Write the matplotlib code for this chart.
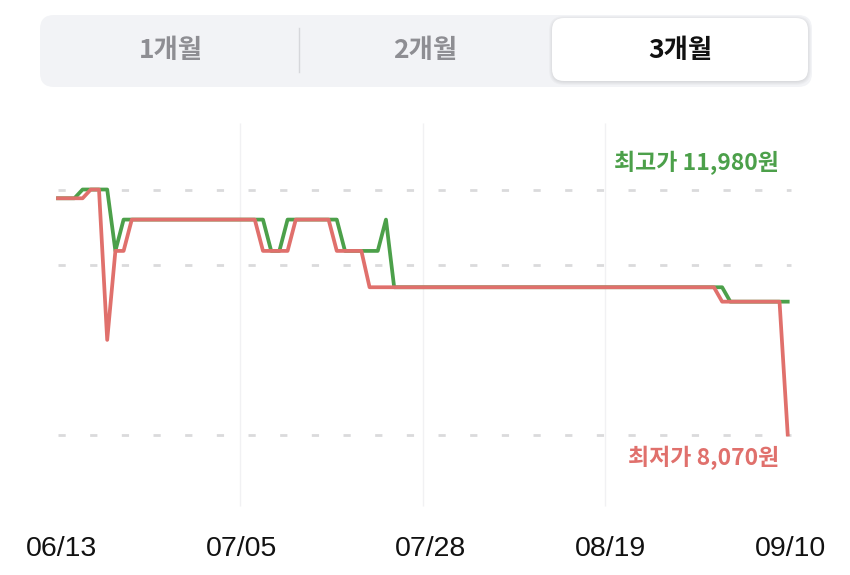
import numpy as np
import matplotlib
matplotlib.use('Agg')
import matplotlib.pyplot as plt
from matplotlib.patches import FancyBboxPatch

plt.rcParams['font.family'] = ['Noto Sans CJK KR', 'DejaVu Sans']

# 데이터 (06/13 기준 경과일, 가격)
tabs = ['1개월', '2개월', '3개월']
tick_labels = ['06/13', '07/05', '07/28', '08/19', '09/10']
tick_days = [0, 22, 45, 67, 89]
n_days = 89
price_max = 11980
price_min = 8070
price_mid = 10780

low_days = [0, 3, 4, 5, 6, 7, 8, 9, 24, 25, 28, 29, 33, 34, 37, 38, 80, 81, 88, 89]
low_vals = [11840, 11840, 11980, 11980, 9580, 11000, 11000, 11500, 11500, 11000,
            11000, 11500, 11500, 11000, 11000, 10420, 10420, 10190, 10190, 8070]
high_days = [0, 2, 3, 6, 7, 8, 25, 26, 27, 28, 34, 35, 39, 40, 41, 81, 82, 89]
high_vals = [11840, 11840, 11980, 11980, 11000, 11500, 11500, 11000, 11000, 11500,
             11500, 11000, 11000, 11500, 10420, 10420, 10190, 10190]

green = '#4ca04a'
red = '#e0706c'

W, H = 850, 575
fig = plt.figure(figsize=(W / 100, H / 100), dpi=100)

# 상단 기간 선택 탭
bg = fig.add_axes([0, 0, 1, 1])
bg.set_xlim(0, W)
bg.set_ylim(H, 0)
bg.axis('off')
bg.add_patch(FancyBboxPatch((40, 15), 772, 72, boxstyle='round,pad=0,rounding_size=14',
                            fc='#f2f3f6', ec='none'))
for k in range(4):
    bg.add_patch(FancyBboxPatch((552 - k, 19 - k), 256 + 2 * k, 63 + 2 * k,
                                boxstyle='round,pad=0,rounding_size=%d' % (12 + k),
                                fc='#000000', ec='none', alpha=0.025))
bg.add_patch(FancyBboxPatch((552, 18), 256, 63, boxstyle='round,pad=0,rounding_size=12',
                            fc='white', ec='none'))
bg.plot([299, 299], [28, 72], color='#d6d7db', lw=1)
tab_x = [171, 425, 680]
for i, t in enumerate(tabs):
    c = '#111111' if i == 2 else '#8e8e93'
    bg.text(tab_x[i], 50, t, ha='center', va='center', fontsize=19,
            fontweight='bold', color=c)

# 가격 차트
x0, x1, y0, y1 = 58, 791, 189.5, 434.5
ax = fig.add_axes([x0 / W, 1 - y1 / H, (x1 - x0) / W, (y1 - y0) / H])
ax.set_xlim(0, n_days)
ax.set_ylim(price_min, price_max)
ax.patch.set_alpha(0)
for s in ax.spines.values():
    s.set_visible(False)

grid_x = np.linspace(0, n_days, 5)[1:4]
ax.vlines(grid_x, -0.29, 1.27, transform=ax.get_xaxis_transform(),
          color='#f1f1f3', lw=1, clip_on=False, zorder=0)
for v in [price_max, price_mid, price_min]:
    ax.axhline(v, color='#dadadc', lw=2.0, dashes=(2.6, 8.8), clip_on=False, zorder=1)

ax.plot(high_days, high_vals, color=green, lw=2.7, clip_on=False, zorder=3)
ax.plot(low_days, low_vals, color=red, lw=2.7, clip_on=False, zorder=4)

ax.text(0.9836, 1.108, '최고가 {:,}원'.format(price_max), transform=ax.transAxes,
        ha='right', va='center', fontsize=16.5, fontweight='bold', color=green)
ax.text(0.9836, -0.096, '최저가 {:,}원'.format(price_min), transform=ax.transAxes,
        ha='right', va='center', fontsize=16.5, fontweight='bold', color=red)

ax.set_yticks([])
ax.set_xticks([d + 0.4 for d in tick_days])
ax.set_xticklabels(tick_labels, fontsize=20.5, family='Liberation Sans', color='#111111')
ax.tick_params(axis='x', length=0, pad=73)

fig.savefig('out.png', dpi=100)
